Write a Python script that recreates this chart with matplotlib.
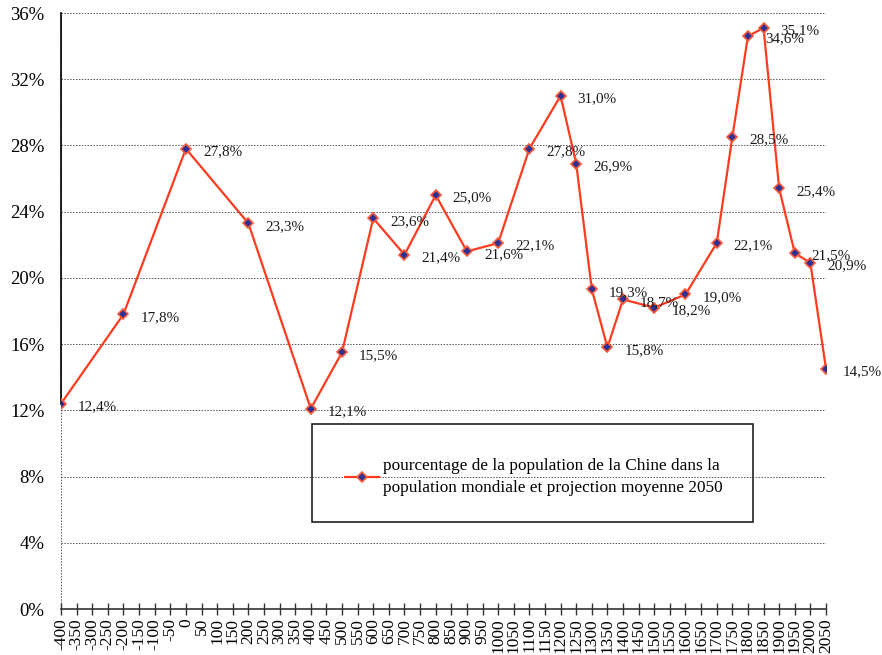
import matplotlib
matplotlib.use("Agg")
import matplotlib.pyplot as plt
from matplotlib.patches import Rectangle
from matplotlib.lines import Line2D

# Category axis: every 50 years from -400 to 2050
tick_years = list(range(-400, 2051, 50))

# Share of China in world population (%), with 2050 medium projection
years = [-400, -200, 0, 200, 400, 500, 600, 700, 800, 900, 1000, 1100, 1200,
         1250, 1300, 1350, 1400, 1500, 1600, 1700, 1750, 1800, 1850, 1900,
         1950, 2000, 2050]
share = [12.4, 17.8, 27.8, 23.3, 12.1, 15.5, 23.6, 21.4, 25.0, 21.6, 22.1,
         27.8, 31.0, 26.9, 19.3, 15.8, 18.7, 18.2, 19.0, 22.1, 28.5, 34.6,
         35.1, 25.4, 21.5, 20.9, 14.5]

y_ticks = [0, 4, 8, 12, 16, 20, 24, 28, 32, 36]
legend_label = ("pourcentage de la population de la Chine dans la\n"
                "population mondiale et projection moyenne 2050")

plt.rcParams['font.family'] = ['Liberation Serif', 'DejaVu Serif']

fig = plt.figure(figsize=(8.82, 6.55), dpi=100)
W, H = 882, 655
left, right, top, bottom = 61, 826, 13, 609
ax = fig.add_axes([left / W, 1 - bottom / H, (right - left) / W, (bottom - top) / H])

xpos = [tick_years.index(y) for y in years]
line_color = '#FF3B1F'
marker_face = '#2E3192'

ax.plot(xpos, share, color=line_color, lw=1.6, marker='D', ms=5.5,
        mfc=marker_face, mec='#FF5A3A', mew=1.2, zorder=3)

for x, v in zip(xpos, share):
    ax.annotate(f"{v:.1f}%".replace('.', ','), (x, v), xytext=(17, -3),
                textcoords='offset pixels', ha='left', va='center',
                fontsize=10.9, color='#1a1a1a', zorder=4)

ax.set_xlim(0, len(tick_years) - 1)
ax.set_ylim(0, 36)
ax.set_yticks(y_ticks)
ax.set_yticklabels([f"{t}%" for t in y_ticks], fontsize=13.5)
ax.set_xticks(range(len(tick_years)))
ax.set_xticklabels([str(t) for t in tick_years], rotation=90, fontsize=12.5,
                   va='top')
ax.tick_params(axis='y', length=0, pad=12)
ax.tick_params(axis='x', direction='inout', length=9, width=1, color='#333333', pad=2)

for t in y_ticks[1:]:
    ax.axhline(t, color='#555555', lw=0.7, ls=(0, (1.5, 1.5)), zorder=1,
               xmax=1.0 + 1.5 / (right - left))

for s in ['top', 'right']:
    ax.spines[s].set_visible(False)
ax.spines['bottom'].set_color('#333333')
ax.spines['bottom'].set_linewidth(1.2)
ax.spines['left'].set_visible(False)
ax.plot([0, 0], [0, 36], color='#555555', lw=0.7, ls=(0, (1.5, 1.5)),
        clip_on=False, zorder=1)
ax.plot([0, 0], [share[0], 36], color='black', lw=1.2, clip_on=False, zorder=2)

# Legend box drawn in figure pixels
fig.patches.append(Rectangle((312 / W, 1 - 522 / H), (753 - 312) / W, (522 - 424) / H,
                             transform=fig.transFigure, fill=False,
                             ec='#222222', lw=1.2))
handle = Line2D([], [], color=line_color, lw=1.6, marker='D', ms=5.5,
                mfc=marker_face, mec='#FF5A3A', mew=1.2)
leg = fig.legend([handle], [legend_label], loc='center left',
                 bbox_to_anchor=(345 / W, 1 - 477 / H), frameon=False,
                 fontsize=12.4, handlelength=2.0, handletextpad=0.2,
                 borderpad=0, borderaxespad=0)
for txt in leg.get_texts():
    txt.set_linespacing(1.45)

fig.savefig('out.png', dpi=100)
